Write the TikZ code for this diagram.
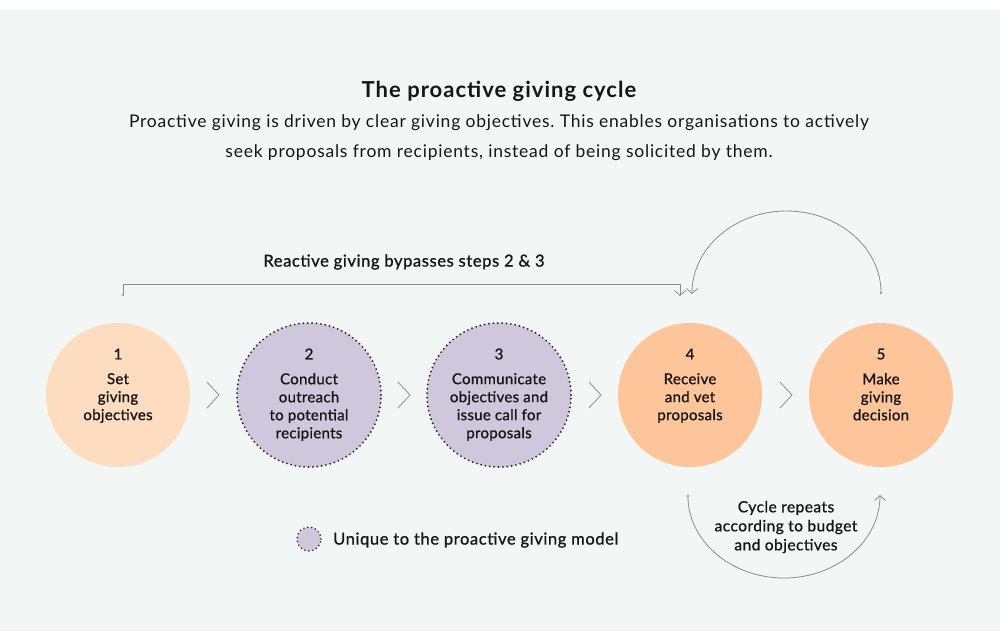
\documentclass[tikz,border=0pt]{standalone}
\usepackage{fontspec}
\setmainfont{Lato}
\frenchspacing
\newfontfamily\titlefont[LetterSpace=4.6]{Lato}
\newfontfamily\subfont[LetterSpace=4.4]{Lato}
\newfontfamily\medfont[FakeBold=1,LetterSpace=2]{Lato}
\newfontfamily\labfont[FakeBold=1,LetterSpace=3.7]{Lato}
\newfontfamily\cycfont[FakeBold=1,LetterSpace=3]{Lato}
\usetikzlibrary{arrows.meta}
\definecolor{bg}{HTML}{F2F6F5}
\definecolor{peachA}{HTML}{FDDCC0}
\definecolor{peachB}{HTML}{FEC59A}
\definecolor{lav}{HTML}{CFC8DC}
\definecolor{txt}{HTML}{161616}
\definecolor{lineg}{HTML}{8C8C8C}
\definecolor{dotc}{HTML}{2A2A2A}
\begin{document}
\begin{tikzpicture}[x=1pt,y=-1pt,
  every node/.style={text=txt, inner sep=0pt},
  stepcircle/.style={circle, minimum size=144pt, draw=none},
  uniq/.style={draw=dotc, line width=2.1pt, line cap=round, dash pattern=on 0pt off 4.4pt},
  numtxt/.style={font=\medfont\fontsize{15}{18}\selectfont},
  desctxt/.style={font=\medfont\fontsize{15}{18}\selectfont, align=center, anchor=north},
  conn/.style={draw=lineg, line width=0.8pt},
  dotv/.style={{Circle[length=2pt]}-{Straight Barb[length=5pt,width=11pt,line width=0.8pt]}},
  chev/.style={draw=lineg!90, line width=0.9pt}]
\useasboundingbox (0,0) rectangle (1000,633);
\fill[white] (0,0) rectangle (1000,633);
\fill[bg] (0,10) rectangle (1000,631);

% title
\node[font=\titlefont\bfseries\fontsize{22}{24}\selectfont] (title) at (499,91) {The proactive giving cycle};
\node[font=\subfont\fontsize{17.5}{30}\selectfont, align=center, anchor=north] (sub) at (499,114)
  {Proactive giving is driven by clear giving objectives. This enables organisations to actively\\
   seek proposals from recipients, instead of being solicited by them.};

% circles
\node[stepcircle, fill=peachA] (c1) at (118,395) {};
\node[stepcircle, fill=lav, uniq] (c2) at (309,395) {};
\node[stepcircle, fill=lav, uniq] (c3) at (499,395) {};
\node[stepcircle, fill=peachB] (c4) at (690,395) {};
\node[stepcircle, fill=peachB] (c5) at (881,395) {};

\node[numtxt] (n1) at (118,354) {1};
\node[numtxt] (n2) at (309,354) {2};
\node[numtxt] (n3) at (499,354) {3};
\node[numtxt] (n4) at (690,354) {4};
\node[numtxt] (n5) at (881,354) {5};

\node[desctxt] (d1) at (118,373) {Set\\giving\\objectives};
\node[desctxt] (d2) at (309,373) {Conduct\\outreach\\to potential\\recipients};
\node[desctxt] (d3) at (499,373) {Communicate\\objectives and\\issue call for\\proposals};
\node[desctxt] (d4) at (690,373) {Receive\\and vet\\proposals};
\node[desctxt] (d5) at (881,373) {Make\\giving\\decision};

% chevrons
\foreach \x in {213,404,595,786}{
  \draw[chev] (\x-6,382) -- (\x+6,395) -- (\x-6,408);
}

% bypass connector
\coordinate (r1) at (123,296);
\coordinate (r4) at (680,296);
\draw[conn, dotv] (r1) -- ++(0,-12) -| (r4);
\node[font=\labfont\fontsize{16.5}{18}\selectfont] (byp) at (404,262) {Reactive giving bypasses steps 2 \& 3};

% top arc: from 5 back to 4
\coordinate (t5) at (881,294);
\coordinate (t4) at (692,294);
\draw[conn, dotv] (t5) arc[start angle=0, end angle=-180, x radius=94.5, y radius=83];

% bottom arc: from 4 to 5
\coordinate (b4) at (688,495);
\coordinate (b5) at (880,495);
\draw[conn, dotv] (b4) arc[start angle=180, end angle=0, x radius=96, y radius=83];
\node[font=\cycfont\fontsize{15.5}{19}\selectfont, align=center] (cyc) at (786,527) {Cycle repeats\\according to budget\\and objectives};

% legend
\node[circle, minimum size=24pt, fill=lav, uniq, line width=1.8pt, dash pattern=on 0pt off 4pt] (leg) at (309,539) {};
\node[font=\labfont\fontsize{16.5}{18}\selectfont, anchor=west] (legt) at (333,540) {Unique to the proactive giving model};
\end{tikzpicture}
\end{document}
